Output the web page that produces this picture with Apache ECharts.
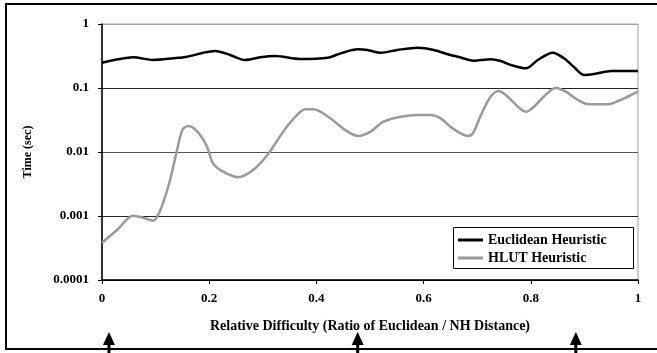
<!DOCTYPE html>
<html>
<head>
<meta charset="utf-8">
<script src="https://cdn.jsdelivr.net/npm/echarts@6/dist/echarts.min.js"></script>
<style>html,body{margin:0;padding:0;background:#fff;}#c{width:657px;height:353px;}</style>
</head>
<body>
<div id="c"></div>
<script>
const seriesNames = ['Euclidean Heuristic', 'HLUT Heuristic'];
const yTickLabels = ['0.0001', '0.001', '0.01', '0.1', '1'];
const euclidX = [0, 0.030, 0.058, 0.095, 0.133, 0.159, 0.189, 0.211, 0.239, 0.267, 0.295, 0.323, 0.370, 0.421, 0.445, 0.477, 0.495, 0.520, 0.551, 0.589, 0.619, 0.650, 0.664, 0.693, 0.725, 0.744, 0.763, 0.791, 0.813, 0.841, 0.862, 0.880, 0.899, 0.918, 0.950, 1.0];
const euclidY = [0.248, 0.281, 0.302, 0.274, 0.291, 0.308, 0.356, 0.379, 0.328, 0.274, 0.302, 0.316, 0.284, 0.297, 0.348, 0.403, 0.393, 0.356, 0.393, 0.426, 0.393, 0.328, 0.308, 0.267, 0.281, 0.264, 0.229, 0.203, 0.274, 0.356, 0.291, 0.215, 0.160, 0.166, 0.184, 0.184];
const hlutX = [0, 0.028, 0.058, 0.077, 0.095, 0.103, 0.114, 0.127, 0.140, 0.150, 0.161, 0.178, 0.196, 0.207, 0.226, 0.254, 0.282, 0.310, 0.338, 0.361, 0.379, 0.394, 0.422, 0.458, 0.479, 0.501, 0.525, 0.557, 0.589, 0.613, 0.632, 0.650, 0.669, 0.682, 0.692, 0.707, 0.725, 0.740, 0.757, 0.776, 0.791, 0.806, 0.824, 0.847, 0.865, 0.888, 0.908, 0.944, 0.963, 0.983, 1.0];
const hlutY = [0.000383, 0.000604, 0.00101, 0.00094, 0.000845, 0.000975, 0.0016, 0.00365, 0.0107, 0.0221, 0.0255, 0.0208, 0.0121, 0.00665, 0.00492, 0.00402, 0.00523, 0.0093, 0.0208, 0.0356, 0.0464, 0.0464, 0.0356, 0.0208, 0.0178, 0.0208, 0.0297, 0.0356, 0.0379, 0.0379, 0.0336, 0.0248, 0.0196, 0.0178, 0.0196, 0.0379, 0.0731, 0.0898, 0.0731, 0.051, 0.0426, 0.051, 0.0731, 0.101, 0.0875, 0.065, 0.0556, 0.0556, 0.0626, 0.075, 0.0875];
const arrowX = [0.013, 0.477, 0.884];
const xTitle = 'Relative Difficulty (Ratio of Euclidean / NH Distance)';
const yTitle = 'Time (sec)';

const FONT = "'Liberation Serif', 'Times New Roman', serif";
const chart = echarts.init(document.getElementById('c'), null, {renderer: 'canvas'});
const zip = (xs, ys) => xs.map((x, i) => [x, ys[i]]);

chart.setOption({
  animation: false,
  backgroundColor: '#fff',
  grid: {left: 102, right: 19, top: 24, bottom: 73, show: true, borderColor: '#a0a0a0', borderWidth: 1},
  xAxis: {
    type: 'value', min: 0, max: 1, interval: 0.2,
    name: xTitle, nameLocation: 'middle', nameGap: 39,
    nameTextStyle: {fontFamily: FONT, fontWeight: 'bold', fontSize: 14, color: '#000'},
    axisLine: {lineStyle: {color: '#000', width: 1.5}},
    axisTick: {show: true, inside: false, length: 4, lineStyle: {color: '#000'}},
    axisLabel: {fontFamily: FONT, fontWeight: 'bold', fontSize: 13, color: '#000', margin: 12},
    splitLine: {show: false}
  },
  yAxis: {
    type: 'log', logBase: 10, min: 0.0001, max: 1,
    name: yTitle, nameLocation: 'middle', nameGap: 68, nameRotate: 90,
    nameTextStyle: {fontFamily: FONT, fontWeight: 'bold', fontSize: 12, color: '#000'},
    axisLine: {lineStyle: {color: '#000', width: 1.5}},
    axisTick: {show: true, length: 4, lineStyle: {color: '#000'}},
    axisLabel: {fontFamily: FONT, fontWeight: 'bold', fontSize: 13, color: '#000', margin: 13,
      formatter: v => yTickLabels[Math.round(Math.log10(v)) + 4]},
    splitLine: {show: true, lineStyle: {color: ['#000', '#222', '#555', '#222', '#a0a0a0'], width: 1}}
  },
  legend: {
    orient: 'vertical', left: 458, top: 233, padding: 0, itemGap: 4, z: 10,
    itemWidth: 25, itemHeight: 3, icon: 'rect',
    textStyle: {fontFamily: FONT, fontWeight: 'bold', fontSize: 14, color: '#000'},
    data: seriesNames
  },
  series: [
    {name: seriesNames[0], type: 'line', data: zip(euclidX, euclidY), smooth: 0.3, symbol: 'none',
      lineStyle: {color: '#000', width: 2.5}, itemStyle: {color: '#000'}, z: 3},
    {name: seriesNames[1], type: 'line', data: zip(hlutX, hlutY), smooth: 0.3, symbol: 'none',
      lineStyle: {color: '#9a9a9a', width: 2.5}, itemStyle: {color: '#9a9a9a'}, z: 2}
  ]
});

const arrows = arrowX.map(ax => {
  const px = chart.convertToPixel({gridIndex: 0}, [ax, 1])[0];
  return {
    type: 'group', x: px, y: 0, children: [
      {type: 'polygon', shape: {points: [[-6, 345], [6, 345], [0, 332]]}, style: {fill: '#000'}},
      {type: 'rect', shape: {x: -1.5, y: 344, width: 3, height: 10}, style: {fill: '#000'}}
    ]
  };
});

chart.setOption({
  graphic: [
    {type: 'rect', shape: {x: 6, y: 4, width: 700, height: 345}, style: {fill: 'none', stroke: '#000', lineWidth: 2}, z: 0, silent: true},
    {type: 'rect', shape: {x: 453.5, y: 227.5, width: 180, height: 41}, style: {fill: '#fff', stroke: '#000', lineWidth: 1}, z: 5, silent: true},
    ...arrows
  ]
});
</script>
</body>
</html>
